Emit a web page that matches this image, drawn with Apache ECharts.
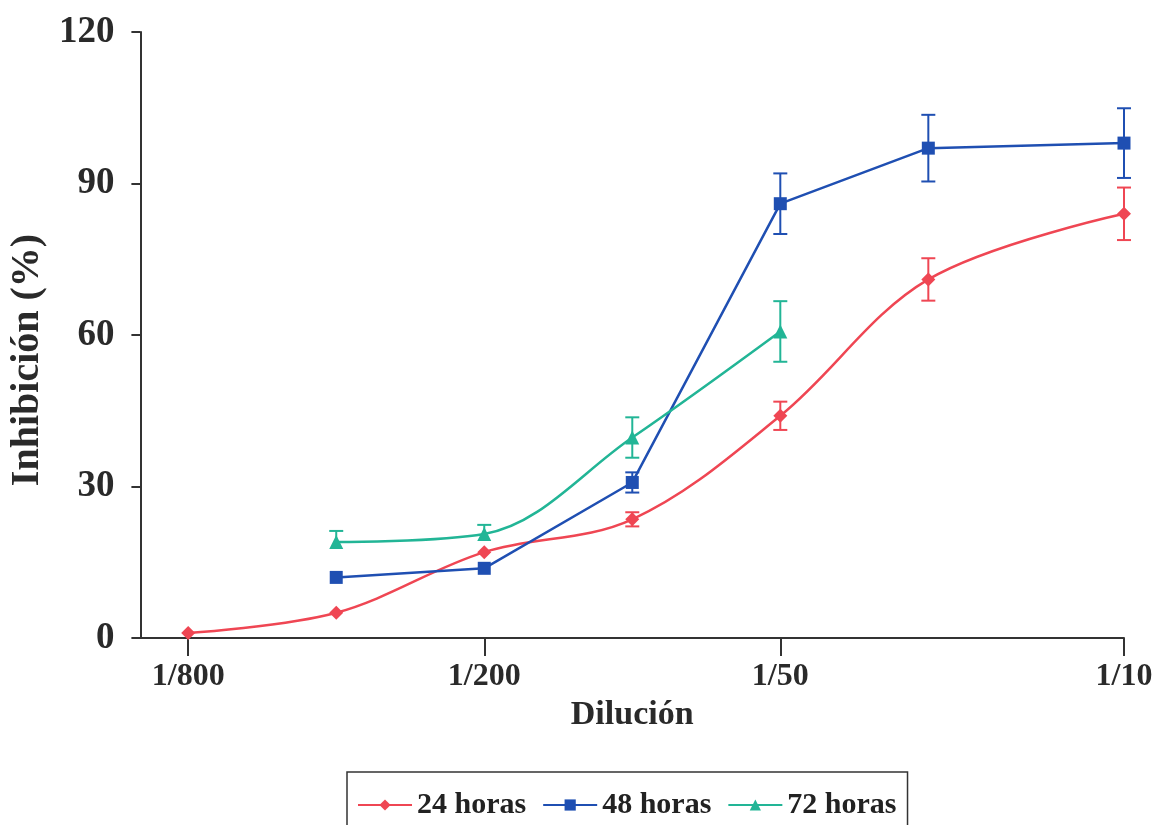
<!DOCTYPE html>
<html>
<head>
<meta charset="utf-8">
<script src="https://cdn.jsdelivr.net/npm/echarts@6/dist/echarts.min.js"></script>
<style>
html,body{margin:0;padding:0;background:#fff;}
#chart{width:1160px;height:825px;}
</style>
</head>
<body>
<div id="chart"></div>
<script>
// Dilution denominators (1/x) for each measured point
const dilutions = [800, 400, 200, 100, 50, 25, 10];
// Labeled ticks on the x axis
const tickDilutions = [800, 200, 50, 10];
const tickLabels = ['1/800', '1/200', '1/50', '1/10'];

const seriesNames = ['24 horas', '48 horas', '72 horas'];
// Inhibition (%) values; null = not measured
const h24 = [1, 5, 17, 23.5, 44, 71, 84];
const h48 = [null, 12, 13.8, 30.8, 86, 97, 98];
const h72 = [null, 19, 20.6, 39.7, 60.7, null, null];
// Error bars (upper / lower)
const h24ErrUp = [0, 0, 0, 1.4, 2.8, 4.2, 5.2];
const h24ErrDn = [0, 0, 0, 1.4, 2.8, 4.2, 5.2];
const h48ErrUp = [0, 0, 0, 2.0, 6.0, 6.6, 6.9];
const h48ErrDn = [0, 0, 0, 2.0, 6.0, 6.6, 6.9];
const h72ErrUp = [0, 2.2, 1.8, 4.0, 6.0, 0, 0];
const h72ErrDn = [0, 0, 0, 4.0, 6.0, 0, 0];

const yTicks = [0, 30, 60, 90, 120];

const colors = ['#ef4653', '#1f4fb2', '#22b596'];
const FONT = '"Liberation Serif", "Times New Roman", serif';

// position on a log2 dilution scale, 1/800 = 0
const pos = d => Math.log2(800 / d);

function pts(vals) {
  const out = [];
  vals.forEach((v, i) => { if (v !== null) out.push([pos(dilutions[i]), v]); });
  return out;
}
function errPts(vals, up, dn) {
  const out = [];
  vals.forEach((v, i) => {
    if (v !== null && (up[i] > 0 || dn[i] > 0)) out.push([pos(dilutions[i]), v - dn[i], v + up[i], up[i] > 0 ? 1 : 0, dn[i] > 0 ? 1 : 0]);
  });
  return out;
}

function errSeries(name, data, color) {
  return {
    name: name,
    type: 'custom',
    data: data,
    z: 3,
    silent: true,
    encode: { x: 0, y: [1, 2] },
    renderItem: function (params, api) {
      const x = api.value(0);
      const lo = api.coord([x, api.value(1)]);
      const hi = api.coord([x, api.value(2)]);
      const w = 7;
      const st = { stroke: color, lineWidth: 2 };
      const children = [
        { type: 'line', shape: { x1: lo[0], y1: lo[1], x2: hi[0], y2: hi[1] }, style: st }
      ];
      if (api.value(3)) children.push({ type: 'line', shape: { x1: hi[0] - w, y1: hi[1], x2: hi[0] + w, y2: hi[1] }, style: st });
      if (api.value(4)) children.push({ type: 'line', shape: { x1: lo[0] - w, y1: lo[1], x2: lo[0] + w, y2: lo[1] }, style: st });
      return { type: 'group', children: children };
    }
  };
}

const tickPos = tickDilutions.map(pos);

const chart = echarts.init(document.getElementById('chart'));
chart.setOption({
  animation: false,
  backgroundColor: '#ffffff',
  grid: { left: 137, right: 36, top: 32, bottom: 187, containLabel: false },
  legend: {
    data: seriesNames,
    left: 347,
    top: 772,
    orient: 'horizontal',
    borderColor: '#333',
    borderWidth: 1.5,
    padding: [18, 11, 20, 10],
    itemWidth: 54,
    itemHeight: 14,
    itemGap: 16,
    textStyle: { fontFamily: FONT, fontSize: 30, fontWeight: 'bold', color: '#222' }
  },
  xAxis: {
    type: 'value',
    min: -48 / 148.6,
    max: pos(10),
    name: 'Dilución',
    nameLocation: 'middle',
    nameGap: 50,
    nameTextStyle: { fontFamily: FONT, fontSize: 34, fontWeight: 'bold', color: '#2a2a2a' },
    axisLine: { show: true, onZero: false, lineStyle: { color: '#333', width: 2 } },
    axisTick: { show: true, length: 18, lineStyle: { color: '#333', width: 2 }, customValues: tickPos },
    axisLabel: {
      customValues: tickPos,
      fontFamily: FONT, fontSize: 32, fontWeight: 'bold', color: '#2a2a2a', margin: 23,
      formatter: function (v) {
        let best = 0, bd = Infinity;
        tickPos.forEach((p, i) => { const d = Math.abs(p - v); if (d < bd) { bd = d; best = i; } });
        return tickLabels[best];
      }
    },
    splitLine: { show: false }
  },
  yAxis: {
    type: 'value',
    min: yTicks[0],
    max: yTicks[yTicks.length - 1],
    interval: yTicks[1] - yTicks[0],
    name: 'Inhibición (%)',
    nameLocation: 'middle',
    nameGap: 88,
    nameTextStyle: { fontFamily: FONT, fontSize: 40, fontWeight: 'bold', color: '#2a2a2a', padding: [0, 50, 0, 0] },
    axisLine: { show: true, onZero: false, lineStyle: { color: '#333', width: 2 } },
    axisTick: { show: true, length: 9, lineStyle: { color: '#333', width: 2 } },
    axisLabel: { fontFamily: FONT, fontSize: 37, fontWeight: 'bold', color: '#2a2a2a', margin: 26 },
    splitLine: { show: false }
  },
  series: [
    { name: seriesNames[0], type: 'line', data: pts(h24), smooth: 0.35, symbol: 'diamond', symbolSize: 14,
      itemStyle: { color: colors[0] }, lineStyle: { color: colors[0], width: 2.5 }, z: 4 },
    { name: seriesNames[1], type: 'line', data: pts(h48), smooth: false, symbol: 'rect', symbolSize: 13,
      itemStyle: { color: colors[1] }, lineStyle: { color: colors[1], width: 2.5 }, z: 4 },
    { name: seriesNames[2], type: 'line', data: pts(h72), smooth: 0.35, symbol: 'triangle', symbolSize: 14,
      itemStyle: { color: colors[2] }, lineStyle: { color: colors[2], width: 2.5 }, z: 4 },
    errSeries('err24', errPts(h24, h24ErrUp, h24ErrDn), colors[0]),
    errSeries('err48', errPts(h48, h48ErrUp, h48ErrDn), colors[1]),
    errSeries('err72', errPts(h72, h72ErrUp, h72ErrDn), colors[2])
  ]
});
</script>
</body>
</html>
